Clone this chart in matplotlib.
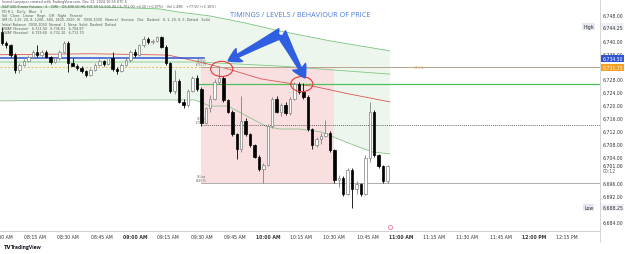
import numpy as np
import matplotlib.pyplot as plt
from matplotlib.patches import Ellipse
from matplotlib.lines import Line2D

W, H = 625, 255

# 2-minute ES bars from 08:00
opens = [6742.5, 6739.25, 6738.5, 6735.5, 6730.75, 6732.5, 6733.75, 6735, 6736.5, 6735.5,
         6736.5, 6735, 6733.25, 6734.5, 6736.5, 6739.25, 6733, 6732.25, 6731.5, 6730.5,
         6729.25, 6731, 6732.5, 6733.75, 6732.75, 6734.5, 6731.25, 6730.5, 6732.5, 6734,
         6736.5, 6735.5, 6738.5, 6740.5, 6739.5, 6740, 6741, 6738, 6733, 6724.25,
         6727.5, 6721, 6720, 6724.5, 6728.5, 6725, 6714.5, 6719, 6722, 6727,
         6728.5, 6721.5, 6718, 6711, 6706.5, 6715, 6711, 6707.5, 6704, 6700.25,
         6701.5, 6713.5, 6722, 6718, 6720, 6717.5, 6722, 6726.5, 6724, 6722.5,
         6712.5, 6707.5, 6709.5, 6710.5, 6711.5, 6706, 6696.75, 6697.5, 6692.5, 6700,
         6694, 6695.5, 6692.5, 6703.5, 6717.75, 6704.5, 6701, 6696.5]
highs = [6744.25, 6740, 6739, 6736, 6733, 6734.25, 6735.5, 6737, 6738.75, 6737,
         6737, 6735.25, 6735, 6737, 6739.75, 6739.75, 6734.5, 6732.75, 6732, 6731,
         6731.5, 6733, 6734.25, 6734, 6735, 6736.5, 6731.75, 6733, 6734.5, 6737,
         6737.5, 6739, 6741.25, 6741, 6740.5, 6741.25, 6741.25, 6738.5, 6733.5, 6731,
         6728, 6722, 6725, 6729, 6729.25, 6725.5, 6719.5, 6723, 6728, 6731.75,
         6729, 6722, 6718.5, 6711.5, 6722.75, 6716, 6711.5, 6708, 6704.5, 6702,
         6714, 6722.5, 6722.75, 6720.5, 6721, 6722.5, 6727.25, 6727, 6726.75, 6723,
         6713, 6710, 6711.5, 6715.25, 6712, 6706.5, 6698.5, 6698, 6700.5, 6700.5,
         6696.5, 6696, 6704.5, 6721, 6718.5, 6705, 6701.5, 6701.5]
lows = [6738.75, 6737.75, 6735, 6730, 6730, 6732, 6733.25, 6734.5, 6735, 6735,
        6734.5, 6732.75, 6733, 6734, 6736, 6730.25, 6732, 6731, 6730, 6728.75,
        6729, 6730.5, 6732, 6732.25, 6732.5, 6730.5, 6729.75, 6730.25, 6732, 6733.5,
        6735, 6735.25, 6738, 6739, 6739, 6739.5, 6737.75, 6732.5, 6723.75, 6723.5,
        6720.5, 6719.25, 6719.5, 6724, 6724.5, 6713.5, 6714, 6718, 6721.5, 6726.5,
        6721, 6717.5, 6710.5, 6703.25, 6705.5, 6710.5, 6707, 6703.5, 6699.5, 6696,
        6701, 6713, 6717.5, 6716.5, 6717, 6717, 6721.5, 6723.5, 6722, 6712,
        6706.5, 6707, 6708, 6710, 6705.5, 6696, 6694.5, 6691.75, 6692, 6688.25,
        6692.5, 6691.75, 6692, 6702.5, 6704, 6700.5, 6696, 6696]
closes = [6739.25, 6738.5, 6735.5, 6730.75, 6732.5, 6733.75, 6735, 6736.5, 6735.5, 6736.5,
          6735, 6733.25, 6734.5, 6736.5, 6739.25, 6733, 6732.25, 6731.5, 6730.5, 6729.25,
          6731, 6732.5, 6733.75, 6732.75, 6734.5, 6731.25, 6730.5, 6732.5, 6734, 6736.5,
          6735.5, 6738.5, 6740.5, 6739.5, 6740, 6741, 6738, 6733, 6724.25, 6727.5,
          6721, 6720, 6724.5, 6728.5, 6725, 6714.5, 6719, 6722, 6727, 6728.5,
          6721.5, 6718, 6711, 6706.5, 6715, 6711, 6707.5, 6704, 6700.25, 6701.5,
          6713.5, 6722, 6718, 6720, 6717.5, 6722, 6726.5, 6724, 6722.5, 6712.5,
          6707.5, 6709.5, 6710.5, 6711.5, 6706, 6696.75, 6697.5, 6692.5, 6700, 6694,
          6695.5, 6692.5, 6703.5, 6717.75, 6704.5, 6701, 6696.5, 6701]

# indicator curves: minutes after 08:00 / price
vwap_t = [-1, 40, 75, 87, 102, 117, 132, 140, 157, 175]
vwap_p = [6735.6, 6735.9, 6735.5, 6733.7, 6731.2, 6728.1, 6726.5, 6725.9, 6723.4, 6721.0]
upper_t = [-1, 44, 71, 80, 94, 110, 125, 148, 175]
upper_p = [6750.4, 6750.4, 6749.8, 6748.8, 6747.6, 6745.4, 6743.0, 6739.9, 6736.8]
lower_t = [-1, 44, 87, 94, 102, 107, 113, 119, 125, 134, 144, 155, 167, 175]
lower_p = [6721.3, 6721.6, 6721.6, 6719.7, 6719.7, 6717.9, 6715.7, 6713.5, 6712.6,
           6712.6, 6711.7, 6708.6, 6705.5, 6704.9]
mid_t = [-1, 44, 88, 125, 175]
mid_p = [6733.35, 6733.35, 6733.35, 6732.1, 6729.6]

# levels
ib_high, ib_mid, ib_low = 6731.75, 6713.75, 6695.75
ib_start, ib_end = 90, 150
green_level = 6726.50
blue_level = 6734.50
day_high, day_low = 6744.25, 6688.25

price_ticks = [6748, 6740, 6736, 6728, 6724, 6720, 6716, 6712, 6708, 6704, 6696, 6692, 6684]
time_ticks = list(range(0, 256, 15))
time_labels = ["08:00 AM", "08:15 AM", "08:30 AM", "08:45 AM", "09:00 AM", "09:15 AM",
               "09:30 AM", "09:45 AM", "10:00 AM", "10:15 AM", "10:30 AM", "10:45 AM",
               "11:00 AM", "11:15 AM", "11:30 AM", "11:45 AM", "12:00 PM", "12:15 PM"]

legend_lines = [
    "Invest Lonpaper created with TradingView.com, Dec 11, 2024 10:55 UTC-5",
    "S&P 500 E-mini Futures \u00b7 2 \u00b7 CME   O6,696.50 H6,701.50 L6,696.00 C6,701.00 +4.50 (+0.07%)   Vol 1.49K   +77.50 (+1.16%)",
    "PD H L   Daily   Blue   3",
    "Vol   Close   Linear   Regn   Off   Right   Percent",
    "SM (5, 1.25, 20, 8, 1200, -500, 1800, 2020, 9)   0930-1030   Normal   Session   Dot   Dashed   0, 1, 20, 0, 5, Dotted   Solid",
    "Initial Balance  0930-1030  Normal  1  None  Solid  Dashed  Dotted",
    "VWAP (Session)   6,721.04   6,736.81   6,704.87",
    "VWAP (Session)   6,729.60   6,732.10   6,711.70",
]

fig = plt.figure(figsize=(W / 100, H / 100), dpi=100)
ax = fig.add_axes([0, 23 / H, 600 / W, 232 / H])
ax.set_xlim(-0.79, 269.8)
ax.set_ylim(6681.0, 6752.86)

# vwap band fill and initial balance box
ax.fill(upper_t + lower_t[::-1], upper_p + lower_p[::-1], color="#edf6ed", lw=0, zorder=0)
ax.fill_between([ib_start, ib_end], ib_low, ib_high, color="#f9dfdf", lw=0, zorder=0.5)

ax.plot(upper_t, upper_p, color="#7cc47f", lw=0.6, zorder=1)
ax.plot(lower_t, lower_p, color="#8dbf8f", lw=0.6, zorder=1)
ax.plot(mid_t, mid_p, color="#81c784", lw=0.6, zorder=1)
ax.plot(vwap_t, vwap_p, color="#e05555", lw=0.6, zorder=1)

# horizontal levels
ax.plot([-1, ib_start + 1], [blue_level] * 2, color="#2f55d4", lw=1.1, zorder=2)
ax.plot([-1, 185], [ib_high] * 2, color="#f2b35a", lw=0.7, ls=(0, (2, 2)), zorder=2)
ax.text(186, ib_high, "OP-HL", color="#f29b30", fontsize=2.6, va="center", zorder=2)
ax.plot([ib_start, 270], [ib_high] * 2, color="#b8a48c", lw=0.7, zorder=2)
ax.plot([ib_start - 2, 270], [green_level] * 2, color="#4cc05a", lw=0.9, zorder=2)
ax.plot([ib_start, 270], [ib_mid] * 2, color="#333333", lw=0.6, ls=(0, (1, 1.5)), zorder=2)
ax.plot([ib_start, 270], [ib_low] * 2, color="#a0a0a0", lw=0.6, zorder=2)
for lvl, name in [(ib_high, "IB High"), (ib_mid, "IB Mid"), (ib_low, "IB Low")]:
    ax.text(ib_start, lvl + 0.4, f"{name}\n{lvl:,.2f}", fontsize=1.8, color="#666666",
            ha="center", va="bottom", linespacing=0.9, zorder=2)

# candles
t = np.arange(len(closes)) * 2
o, hi, lo, c = map(np.array, (opens, highs, lows, closes))
up = c >= o
wick_col = np.where(up, "#808080", "#000000")
ax.vlines(t, lo, hi, colors=wick_col, lw=0.6, zorder=3)
body_h = np.maximum(np.abs(c - o), 0.2)
ax.bar(t, body_h, bottom=np.minimum(o, c), width=1.1,
       color=np.where(up, "#ffffff", "#000000"), edgecolor=wick_col, linewidth=0.5, zorder=4)

# annotation
ax.add_patch(Ellipse((99.2, 6731.2), 10, 4.7, fill=False, ec="#e03a3a", lw=0.8, zorder=5))
ax.add_patch(Ellipse((135.3, 6726.5), 10, 4.7, fill=False, ec="#e03a3a", lw=0.8, zorder=5))
arrow = dict(arrowstyle="fancy,head_length=0.7,head_width=0.8,tail_width=0.55",
             color="#2f5ee0", mutation_scale=13, shrinkA=0, shrinkB=0)
ax.annotate("", xy=(102.1, 6733.7), xytext=(126, 6742.3), arrowprops=arrow, zorder=6)
ax.annotate("", xy=(136.8, 6728.4), xytext=(126, 6742.3), arrowprops=arrow, zorder=6)
ax.text(134.5, 6748.2, "TIMINGS / LEVELS / BEHAVIOUR OF PRICE", color="#4a7bd4",
        fontsize=5.2, family="Open Sans", ha="center", va="center", zorder=6)
ax.plot([175], [6682.2], marker="o", ms=3, mfc="none", mec="#e080a8", mew=0.6,
        clip_on=False, zorder=6)

# axes styling
for s in ["top", "left", "right"]:
    ax.spines[s].set_visible(False)
ax.spines["bottom"].set_color("#c8c8c8")
ax.spines["bottom"].set_linewidth(0.6)
ax.yaxis.tick_right()
ax.set_yticks(price_ticks)
ax.set_yticklabels([f"{v:,.2f}" for v in price_ticks])
ax.set_xticks(time_ticks)
ax.set_xticklabels(time_labels)
ax.tick_params(axis="both", length=0, labelsize=3.3, labelcolor="#333333")
ax.tick_params(axis="y", pad=2)
ax.tick_params(axis="x", pad=2)
for lab in ax.get_xticklabels():
    if lab.get_text() in ("09:00 AM", "10:00 AM", "11:00 AM", "12:00 PM"):
        lab.set_fontweight("bold")
fig.add_artist(Line2D([600 / W] * 2, [1 - 243 / H, 1], transform=fig.transFigure,
                      color="#d0d0d0", lw=0.6))

ytr = ax.get_yaxis_transform()
tag = dict(fontsize=3.3, va="center", transform=ytr, zorder=7)
ax.text(1.004, blue_level, "6,734.50", color="white",
        bbox=dict(boxstyle="square,pad=0.25", fc="#2f55d4", ec="none"), **tag)
ax.text(1.004, ib_high, "6,731.75", color="white",
        bbox=dict(boxstyle="square,pad=0.25", fc="#f5a020", ec="none"), **tag)
ax.text(1.004, day_high, f"{day_high:,.2f}", color="#333333",
        bbox=dict(boxstyle="square,pad=0.25", fc="#eef0f6", ec="none"), **tag)
ax.text(1.004, day_low, f"{day_low:,.2f}", color="#333333",
        bbox=dict(boxstyle="square,pad=0.25", fc="#eef0f6", ec="none"), **tag)
ax.text(0.981, day_high, "High", color="#333333", ha="center",
        bbox=dict(boxstyle="square,pad=0.25", fc="#e4e7ef", ec="none"), **tag)
ax.text(0.981, day_low, "Low", color="#333333", ha="center",
        bbox=dict(boxstyle="square,pad=0.25", fc="#e4e7ef", ec="none"), **tag)
ax.text(1.004, closes[-1] + 0.4, f"{closes[-1]:,.2f}", color="#222222", **tag)
ax.text(1.004, closes[-1] - 1.2, "00:12", color="#555555", **tag)

# legend block top-left
for k, line in enumerate(legend_lines):
    ypx = 3 + k * 4.3 if k else 2.5
    fig.text(2 / W, 1 - ypx / H, line, fontsize=2.4, color="#555555", va="center")

fig.text(3 / W, 1 - 248 / H, "TV", fontsize=3.8, fontweight="bold", color="#131722", va="center")
fig.text(11 / W, 1 - 248 / H, "TradingView", fontsize=3.6, family="Open Sans",
         fontweight="bold", color="#131722", va="center")

fig.savefig("out.png", dpi=100)
